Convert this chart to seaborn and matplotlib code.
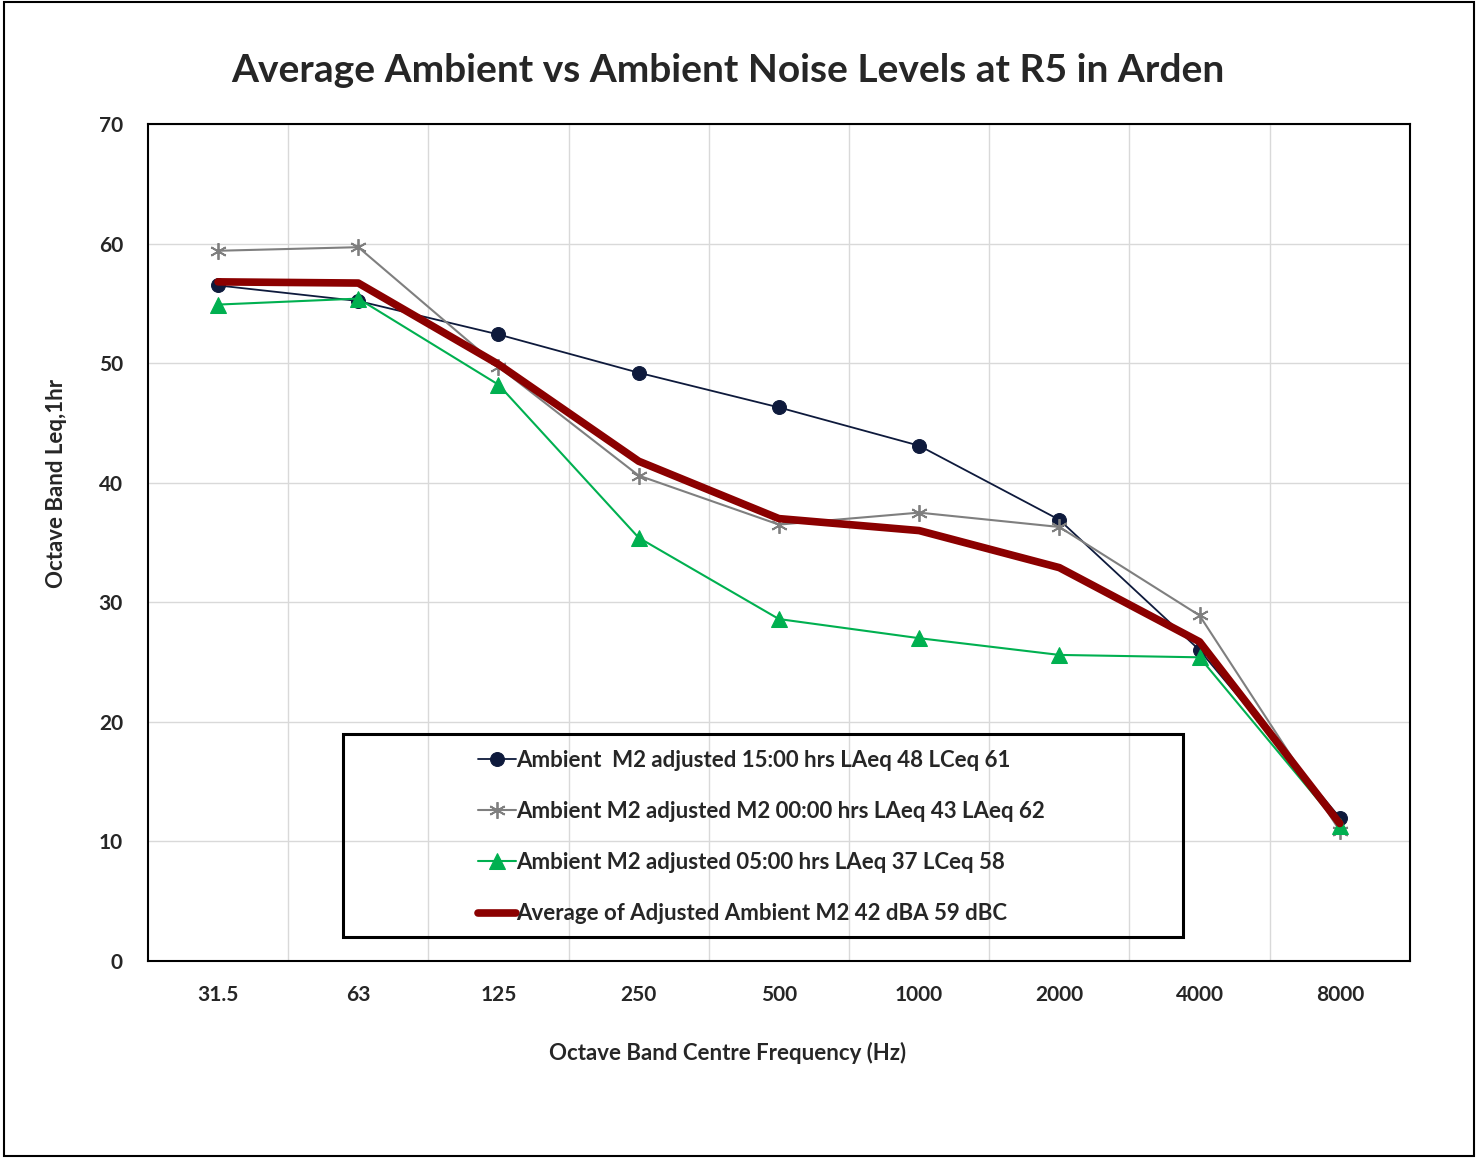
import matplotlib
matplotlib.use("Agg")
import matplotlib.pyplot as plt
import pandas as pd
import seaborn as sns
from matplotlib.patches import Rectangle

freqs = ["31.5", "63", "125", "250", "500", "1000", "2000", "4000", "8000"]
ambient_1500 = [56.5, 55.2, 52.4, 49.2, 46.3, 43.1, 36.9, 26.0, 12.0]
ambient_0000 = [59.4, 59.7, 49.7, 40.6, 36.5, 37.5, 36.3, 28.9, 10.9]
ambient_0500 = [54.9, 55.4, 48.2, 35.4, 28.6, 27.0, 25.6, 25.4, 11.3]
average_adj = [56.8, 56.7, 49.9, 41.8, 37.0, 36.0, 32.9, 26.7, 11.5]

labels = [
    "Ambient  M2 adjusted 15:00 hrs LAeq 48 LCeq 61",
    "Ambient M2 adjusted M2 00:00 hrs LAeq 43 LAeq 62",
    "Ambient M2 adjusted 05:00 hrs LAeq 37 LCeq 58",
    "Average of Adjusted Ambient M2 42 dBA 59 dBC",
]

sns.set_theme(style="white")
plt.rcParams["font.family"] = ["Lato", "DejaVu Sans"]
plt.rcParams["font.weight"] = "bold"

df = pd.DataFrame({"freq": freqs, "a1500": ambient_1500, "a0000": ambient_0000,
                   "a0500": ambient_0500, "avg": average_adj})

fig = plt.figure(figsize=(14.78, 11.58), dpi=100)
ax = fig.add_axes([0.1001, 0.1701, 0.8538, 0.7228])

sns.lineplot(data=df, x="freq", y="a1500", ax=ax, sort=False, color="#0e1a3c",
             linewidth=1.3, marker="o", markersize=10, markeredgecolor="#0e1a3c",
             label=labels[0], zorder=3)
sns.lineplot(data=df, x="freq", y="a0000", ax=ax, sort=False, color="#7f7f7f",
             linewidth=1.5, marker=(6, 2, 0), markersize=12, markeredgewidth=1.3,
             markeredgecolor="#7f7f7f", label=labels[1], zorder=3)
sns.lineplot(data=df, x="freq", y="a0500", ax=ax, sort=False, color="#00b050",
             linewidth=1.5, marker="^", markersize=11, markeredgecolor="#00b050",
             label=labels[2], zorder=3)
sns.lineplot(data=df, x="freq", y="avg", ax=ax, sort=False, color="#8b0000",
             linewidth=5.5, label=labels[3], zorder=4, solid_capstyle="round")

ax.set_xlim(-0.5, 8.5)
ax.set_ylim(0, 70)
ax.set_yticks(range(0, 71, 10))
ax.set_xticks(range(len(freqs)))
ax.set_xticklabels(freqs)
ax.set_xticks([i + 0.5 for i in range(len(freqs) - 1)], minor=True)
ax.grid(True, which="minor", axis="x", color="#d9d9d9", linewidth=1)
ax.grid(True, which="major", axis="y", color="#d9d9d9", linewidth=1)
ax.set_axisbelow(True)
ax.tick_params(axis="x", which="both", length=0, labelsize=15, pad=17)
ax.tick_params(axis="y", which="both", length=0, labelsize=15, pad=18)
for t in ax.get_xticklabels() + ax.get_yticklabels():
    t.set_fontweight("bold")
for s in ax.spines.values():
    s.set_color("black")
    s.set_linewidth(1.5)

ax.set_xlabel("Octave Band Centre Frequency (Hz)", fontsize=16, fontweight="bold")
ax.set_ylabel("Octave Band Leq,1hr", fontsize=16, fontweight="bold")
ax.xaxis.set_label_coords(0.4596, -0.0968)
ax.yaxis.set_label_coords(-0.064, 0.570)

fig.text(0.4926, 0.939, "Average Ambient vs Ambient Noise Levels at R5 in Arden",
         ha="center", va="center", fontsize=28, fontweight="bold")

# legend box drawn separately, entries placed inside without frame
ax.add_patch(Rectangle((0.1545, 0.0287), 0.6655, 0.2425, transform=ax.transAxes,
                       fill=False, edgecolor="black", linewidth=2.2, zorder=5))
leg = ax.legend(loc="upper left", bbox_to_anchor=(0.2615, 0.2525), frameon=False,
                labelspacing=1.36, handlelength=1.7, handletextpad=0.0,
                borderpad=0, borderaxespad=0, prop={"weight": "bold", "size": 16})

fig.add_artist(Rectangle((0.003, 0.002), 0.994, 0.996, transform=fig.transFigure,
                         fill=False, edgecolor="black", linewidth=1.5))

fig.savefig("out.png", dpi=100)
